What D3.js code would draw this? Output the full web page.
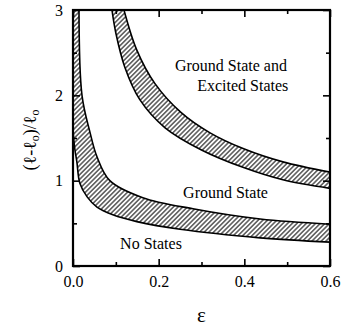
<!DOCTYPE html>
<html>
<head>
<meta charset="utf-8">
<script src="https://cdn.jsdelivr.net/npm/d3@7"></script>
<style>
  body { margin: 0; background: #fff; }
  svg { display: block; }
  text { font-family: "Liberation Serif", "Times New Roman", serif; fill: #000; }
</style>
</head>
<body>
<script>
// boundary curves: [epsilon, (l-l0)/l0]
const lowBandTop = [[0.014, 3.0], [0.021, 2.0], [0.040, 1.56], [0.056, 1.28], [0.086, 1.0], [0.163, 0.80], [0.28, 0.67], [0.437, 0.55], [0.6, 0.49]];
const lowBandBottom = [[-0.002, 3.0], [0.0, 1.6], [0.004, 1.38], [0.009, 1.22], [0.016, 0.97], [0.033, 0.81], [0.056, 0.69], [0.093, 0.60], [0.149, 0.52], [0.25, 0.43], [0.437, 0.33], [0.6, 0.28]];
const highBandTop = [[0.119, 3.0], [0.149, 2.53], [0.191, 2.14], [0.252, 1.80], [0.32, 1.56], [0.40, 1.37], [0.49, 1.22], [0.6, 1.10]];
const highBandBottom = [[0.091, 3.0], [0.100, 2.73], [0.121, 2.33], [0.156, 1.95], [0.215, 1.62], [0.30, 1.36], [0.40, 1.15], [0.49, 1.01], [0.6, 0.91]];

const xMajor = [0, 0.2, 0.4, 0.6];
const xMinor = [0.1, 0.3, 0.5];
const yMajor = [0, 1, 2, 3];
const yMinor = [0.5, 1.5, 2.5];

const regionLabels = [
    {text: "Ground State and", eps: 0.238, val: 2.285},
    {text: "Excited States", eps: 0.29, val: 2.05},
    {text: "Ground State", eps: 0.257, val: 0.80},
    {text: "No States", eps: 0.11, val: 0.20}
];

const W = 348, H = 328;
const mL = 73, mR = 330, mT = 10, mB = 266;

const svg = d3.select("body").append("svg").attr("width", W).attr("height", H);
const x = d3.scaleLinear().domain([0, 0.6]).range([mL, mR]);
const y = d3.scaleLinear().domain([0, 3]).range([mB, mT]);

const defs = svg.append("defs");
defs.append("clipPath").attr("id", "plot")
    .append("rect").attr("x", mL).attr("y", mT).attr("width", mR - mL).attr("height", mB - mT);
const hatch = defs.append("pattern").attr("id", "hatch")
    .attr("patternUnits", "userSpaceOnUse").attr("width", 3.3).attr("height", 3.3)
    .attr("patternTransform", "rotate(45)");
hatch.append("line").attr("x1", 1.65).attr("y1", 0).attr("x2", 1.65).attr("y2", 3.3)
    .attr("stroke", "#000").attr("stroke-width", 1);

const line = d3.line().x(d => x(d[0])).y(d => y(d[1])).curve(d3.curveCatmullRom);

function band(upper, lower) {
    return line(upper) + line(lower.slice().reverse()).replace(/^M/, "L") + "Z";
}

const plot = svg.append("g").attr("clip-path", "url(#plot)");
plot.selectAll("path.band").data([[lowBandTop, lowBandBottom], [highBandTop, highBandBottom]])
    .enter().append("path").attr("class", "band")
    .attr("d", d => band(d[0], d[1]))
    .attr("fill", "url(#hatch)");
plot.selectAll("path.edge").data([lowBandTop, lowBandBottom, highBandTop, highBandBottom])
    .enter().append("path").attr("class", "edge")
    .attr("d", line).attr("fill", "none").attr("stroke", "#000").attr("stroke-width", 1.6);

// labels inside the regions
svg.selectAll("text.region").data(regionLabels).enter().append("text").attr("class", "region")
    .attr("x", d => x(d.eps)).attr("y", d => y(d.val))
    .attr("font-size", 16).text(d => d.text);

// axes, ticks pointing inward on all four sides
function styleAxis(g) {
    g.select(".domain").remove();
    g.selectAll("line").attr("stroke", "#000").attr("stroke-width", 1.6);
    g.selectAll("text").attr("font-family", "Liberation Serif, Times New Roman, serif").attr("font-size", 16).attr("fill", "#000");
}
svg.append("g").attr("transform", `translate(0,${mB})`)
    .call(d3.axisBottom(x).tickValues(xMajor).tickSize(-7).tickPadding(10).tickFormat(d3.format(".1f")))
    .call(styleAxis);
svg.append("g").attr("transform", `translate(0,${mB})`)
    .call(d3.axisBottom(x).tickValues(xMinor).tickSize(-4).tickFormat(""))
    .call(styleAxis);
svg.append("g").attr("transform", `translate(0,${mT})`)
    .call(d3.axisTop(x).tickValues(xMajor).tickSize(-7).tickFormat(""))
    .call(styleAxis);
svg.append("g").attr("transform", `translate(0,${mT})`)
    .call(d3.axisTop(x).tickValues(xMinor).tickSize(-4).tickFormat(""))
    .call(styleAxis);
svg.append("g").attr("transform", `translate(${mL},0)`)
    .call(d3.axisLeft(y).tickValues(yMajor).tickSize(-7).tickPadding(10).tickFormat(d3.format("d")))
    .call(styleAxis);
svg.append("g").attr("transform", `translate(${mL},0)`)
    .call(d3.axisLeft(y).tickValues(yMinor).tickSize(-4).tickFormat(""))
    .call(styleAxis);
svg.append("g").attr("transform", `translate(${mR},0)`)
    .call(d3.axisRight(y).tickValues(yMajor).tickSize(-7).tickFormat(""))
    .call(styleAxis);
svg.append("g").attr("transform", `translate(${mR},0)`)
    .call(d3.axisRight(y).tickValues(yMinor).tickSize(-4).tickFormat(""))
    .call(styleAxis);

svg.append("rect").attr("x", mL).attr("y", mT).attr("width", mR - mL).attr("height", mB - mT)
    .attr("fill", "none").attr("stroke", "#000").attr("stroke-width", 2.2);

// axis titles
svg.append("text").attr("x", (mL + mR) / 2).attr("y", 322)
    .attr("text-anchor", "middle").attr("font-size", 21).text("ε");

const yt = svg.append("text").attr("transform", `translate(36,${(mT + mB) / 2 + 2}) rotate(-90)`)
    .attr("text-anchor", "middle").attr("font-size", 18);
yt.append("tspan").text("(ℓ-ℓ");
yt.append("tspan").attr("font-size", 12).attr("dy", 3).text("o");
yt.append("tspan").attr("dy", -3).text(")/ℓ");
yt.append("tspan").attr("font-size", 12).attr("dy", 3).text("o");
</script>
</body>
</html>
